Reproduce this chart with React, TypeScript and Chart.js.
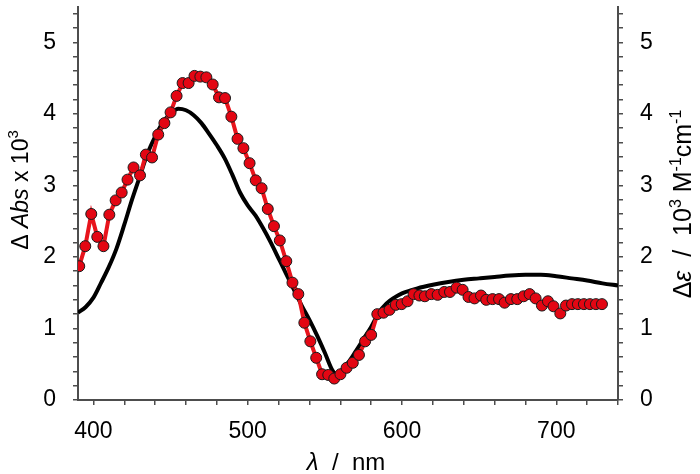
import React, { useEffect, useRef } from 'react';
import { Chart, registerables } from 'chart.js';

Chart.register(...registerables);

// Experimental ΔAbs (red, left axis)
const redWavelength = [
  390.8, 394.7, 398.6, 402.5, 406.5, 410.3, 414.4, 418.3, 422.1, 426.0,
  430.2, 434.0, 438.0, 442.0, 446.0, 450.0, 453.9, 457.8, 461.7, 465.5,
  469.3, 473.2, 477.3, 481.4, 485.3, 489.4, 493.4, 497.2, 501.2, 505.2,
  509.0, 513.0, 517.0, 520.8, 525.0, 529.0, 532.8, 536.7, 540.6, 544.4,
  548.2, 552.2, 556.1, 560.1, 564.1, 568.1, 572.1, 576.1, 580.0, 584.0,
  588.0, 591.9, 596.0, 599.8, 603.6, 607.5, 611.3, 614.8, 619.0, 623.1,
  627.4, 631.1, 635.4, 639.3, 643.1, 647.0, 651.2, 654.6, 658.7, 662.9,
  666.5, 670.6, 674.7, 678.8, 682.7, 686.6, 690.7, 694.6, 698.2, 702.6,
  706.3, 710.2, 714.0, 717.9, 721.8, 725.7, 729.6,
];
const redDeltaAbs = [
  1.87, 2.15, 2.60, 2.28, 2.15, 2.59, 2.79, 2.90, 3.08, 3.25,
  3.14, 3.43, 3.39, 3.71, 3.87, 4.02, 4.25, 4.43, 4.43, 4.53,
  4.52, 4.51, 4.41, 4.23, 4.22, 3.96, 3.65, 3.52, 3.31, 3.07,
  2.96, 2.67, 2.43, 2.23, 1.94, 1.64, 1.48, 1.08, 0.82, 0.59,
  0.36, 0.35, 0.30, 0.36, 0.45, 0.52, 0.63, 0.82, 0.91, 1.20,
  1.22, 1.26, 1.33, 1.34, 1.38, 1.48, 1.46, 1.45, 1.48, 1.47,
  1.51, 1.51, 1.57, 1.54, 1.44, 1.42, 1.46, 1.40, 1.41, 1.41,
  1.36, 1.41, 1.41, 1.45, 1.48, 1.42, 1.32, 1.38, 1.31, 1.21,
  1.32, 1.34, 1.34, 1.34, 1.34, 1.34, 1.34,
];

// Calculated Δε (black, right axis)
const calcWavelength = [
  390, 395, 400, 405, 410, 415, 420, 425, 430, 435,
  440, 445, 450, 455, 460, 465, 470, 475, 480, 485,
  490, 495, 500, 505, 510, 515, 520, 525, 530, 535,
  540, 545, 550, 555, 557, 560, 565, 570, 575, 580,
  585, 590, 595, 600, 610, 620, 630, 640, 650, 660,
  670, 680, 690, 700, 710, 720, 730, 740,
];
const calcDeltaEps = [
  1.22, 1.30, 1.43, 1.64, 1.86, 2.12, 2.45, 2.80, 3.12, 3.44,
  3.68, 3.88, 4.00, 4.07, 4.05, 3.98, 3.87, 3.72, 3.56, 3.38,
  3.15, 2.90, 2.72, 2.58, 2.40, 2.20, 1.98, 1.76, 1.54, 1.32,
  1.12, 0.90, 0.66, 0.41, 0.37, 0.40, 0.52, 0.68, 0.85, 1.02,
  1.22, 1.35, 1.43, 1.49, 1.56, 1.61, 1.65, 1.68, 1.70, 1.72,
  1.74, 1.75, 1.75, 1.73, 1.70, 1.67, 1.63, 1.60,
];

const xMajorTicks = [400, 500, 600, 700];
const yMajorTicks = [0, 1, 2, 3, 4, 5];

const FONT = '"Liberation Sans", Arial, Helvetica, sans-serif';
const AXIS_COLOR = '#4d4d4d';

type Seg = { t: string; italic?: boolean; sup?: boolean };

const xTitle: Seg[] = [{ t: 'λ', italic: true }, { t: '  /  nm' }];
const leftTitle: Seg[] = [{ t: 'Δ ' }, { t: 'Abs', italic: true }, { t: ' x 10' }, { t: '3', sup: true }];
const rightTitle: Seg[] = [
  { t: 'Δ' }, { t: 'ε', italic: true }, { t: '  /  10' }, { t: '3', sup: true },
  { t: ' M' }, { t: '-1', sup: true }, { t: 'cm' }, { t: '-1', sup: true },
];

function drawRich(ctx: CanvasRenderingContext2D, segs: Seg[], cx: number, cy: number, rot: number, size: number) {
  ctx.save();
  ctx.translate(cx, cy);
  ctx.rotate(rot);
  const supSize = Math.round(size * 0.64);
  const fontFor = (s: Seg) => `${s.italic ? 'italic ' : ''}${s.sup ? supSize : size}px ${FONT}`;
  let total = 0;
  const widths = segs.map((s) => {
    ctx.font = fontFor(s);
    const w = ctx.measureText(s.t).width;
    total += w;
    return w;
  });
  let x = -total / 2;
  ctx.fillStyle = '#000';
  ctx.textBaseline = 'alphabetic';
  ctx.textAlign = 'left';
  segs.forEach((s, i) => {
    ctx.font = fontFor(s);
    ctx.fillText(s.t, x, s.sup ? -size * 0.42 : 0);
    x += widths[i];
  });
  ctx.restore();
}

const titlePlugin = {
  id: 'richTitles',
  afterDraw(chart: any) {
    const ctx = chart.ctx as CanvasRenderingContext2D;
    const a = chart.chartArea;
    drawRich(ctx, xTitle, (a.left + a.right) / 2 - 2, 470, 0, 24);
    drawRich(ctx, leftTitle, 28, 190, -Math.PI / 2, 23);
    drawRich(ctx, rightTitle, 691, 204, -Math.PI / 2, 25);
  },
};

const isMajor = (v: number, majors: number[]) =>
  majors.some((m) => Math.abs(v - m) < 1e-6);

export default function App() {
  const ref = useRef<HTMLCanvasElement | null>(null);

  useEffect(() => {
    if (!ref.current) return;
    const tickFont = { family: FONT, size: 23 };
    const yScale = (position: 'left' | 'right', width: number) => ({
      type: 'linear' as const,
      position,
      min: 0,
      max: 5.5,
      ticks: {
        stepSize: 0.2,
        autoSkip: false,
        includeBounds: false,
        color: '#000',
        font: tickFont,
        padding: 17,
        callback: (v: any) => (isMajor(Number(v), yMajorTicks) ? String(Math.round(Number(v))) : ''),
      },
      grid: { drawOnChartArea: false, drawTicks: true, tickLength: 5, color: AXIS_COLOR, lineWidth: 1.5 },
      border: { display: true, color: AXIS_COLOR, width: 2 },
      afterFit: (s: any) => {
        s.width = width;
        s.paddingTop = 0;
        s.paddingBottom = 0;
      },
    });

    const chart = new Chart(ref.current, {
      type: 'line',
      data: {
        datasets: [
          {
            label: 'ΔAbs',
            data: redWavelength.map((x, i) => ({ x, y: redDeltaAbs[i] })),
            borderColor: '#e8141c',
            borderWidth: 4,
            pointRadius: 5.5,
            pointBackgroundColor: '#e30613',
            pointBorderColor: '#1a1a1a',
            pointBorderWidth: 1,
            tension: 0,
            yAxisID: 'y',
            order: 0,
          },
          {
            label: 'Δε',
            data: calcWavelength.map((x, i) => ({ x, y: calcDeltaEps[i] })),
            borderColor: '#000',
            borderWidth: 4,
            pointRadius: 0,
            tension: 0.4,
            cubicInterpolationMode: 'monotone',
            yAxisID: 'y2',
            order: 1,
          },
        ],
      },
      options: {
        animation: false,
        responsive: false,
        devicePixelRatio: 1,
        layout: { padding: { top: 2, left: 0, right: 0, bottom: 0 } },
        plugins: { legend: { display: false }, tooltip: { enabled: false } },
        scales: {
          x: {
            type: 'linear',
            min: 390,
            max: 740,
            ticks: {
              stepSize: 20,
              autoSkip: false,
              includeBounds: false,
              maxRotation: 0,
              color: '#000',
              font: tickFont,
              padding: 13,
              callback: (v: any) => (isMajor(Number(v), xMajorTicks) ? String(Math.round(Number(v))) : ''),
            },
            grid: { drawOnChartArea: false, drawTicks: true, tickLength: 5, color: AXIS_COLOR, lineWidth: 1.5 },
            border: { display: true, color: AXIS_COLOR, width: 2 },
            afterFit: (s: any) => {
              s.height = 74;
              s.paddingLeft = 0;
              s.paddingRight = 0;
            },
          },
          y: yScale('left', 78),
          y2: yScale('right', 82),
        },
      } as any,
      plugins: [titlePlugin],
    });
    return () => chart.destroy();
  }, []);

  return (
    <div style={{ position: 'absolute', left: 0, top: 0, width: 700, height: 474, background: '#fff' }}>
      <canvas ref={ref} width={700} height={474} style={{ display: 'block' }} />
    </div>
  );
}
